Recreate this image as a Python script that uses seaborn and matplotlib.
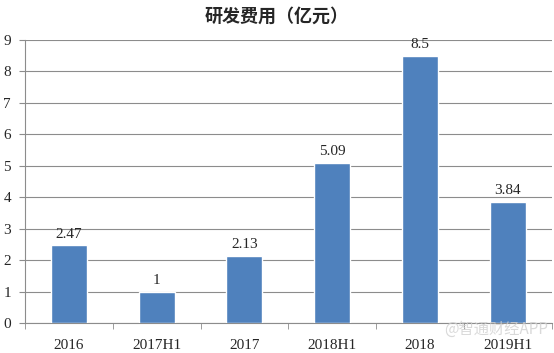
import matplotlib
matplotlib.use("Agg")
import matplotlib.pyplot as plt
import seaborn as sns
import pandas as pd
import numpy as np

# Data
periods = ["2016", "2017H1", "2017", "2018H1", "2018", "2019H1"]
rd_expense = [2.47, 1, 2.13, 5.09, 8.5, 3.84]
value_labels = ["2.47", "1", "2.13", "5.09", "8.5", "3.84"]

df = pd.DataFrame({"period": periods, "expense": rd_expense})

sns.set_style("white")
plt.rcParams['font.family'] = ['Liberation Serif', 'Noto Sans CJK SC', 'DejaVu Sans']

fig = plt.figure(figsize=(5.54, 3.53), dpi=100)
ax = fig.add_axes([0.045, 0.085, 0.951, 0.802])

sns.barplot(x="period", y="expense", data=df, color="#4F81BD",
            width=0.41, saturation=1, ax=ax, zorder=3)

ax.set_ylim(0, 9)
ax.set_yticks(range(0, 10))
ax.set_xlim(-0.5, len(periods) - 0.5)
ax.yaxis.grid(True, color="#8C8C8C", linewidth=0.8, zorder=0)
ax.set_xlabel("")
ax.set_ylabel("")

for s in ["top", "right"]:
    ax.spines[s].set_visible(False)
for s in ["left", "bottom"]:
    ax.spines[s].set_color("#8C8C8C")
    ax.spines[s].set_linewidth(0.8)

ax.tick_params(axis="y", left=True, length=4, color="#8C8C8C", labelsize=11, pad=6)
ax.tick_params(axis="x", bottom=False, labelsize=11, pad=8)
ax.set_xticks(np.arange(-0.5, len(periods)), minor=True)
ax.tick_params(axis="x", which="minor", bottom=True, length=4, color="#8C8C8C")

for i, (v, lab) in enumerate(zip(rd_expense, value_labels)):
    ax.text(i, v + 0.15, lab, ha="center", va="bottom", fontsize=11)

fig.text(0.5, 0.955, "研发费用（亿元）", ha="center", va="center",
         fontsize=13, fontweight="bold", family=['Noto Sans CJK SC', 'DejaVu Sans'])

# watermark
fig.text(0.99, 0.068, "@智通财经APP", ha="right", va="center", fontsize=11,
         color="#D0D0D0", alpha=0.8, family=['Noto Sans CJK SC', 'DejaVu Sans'])

fig.savefig("out.png", dpi=100)
